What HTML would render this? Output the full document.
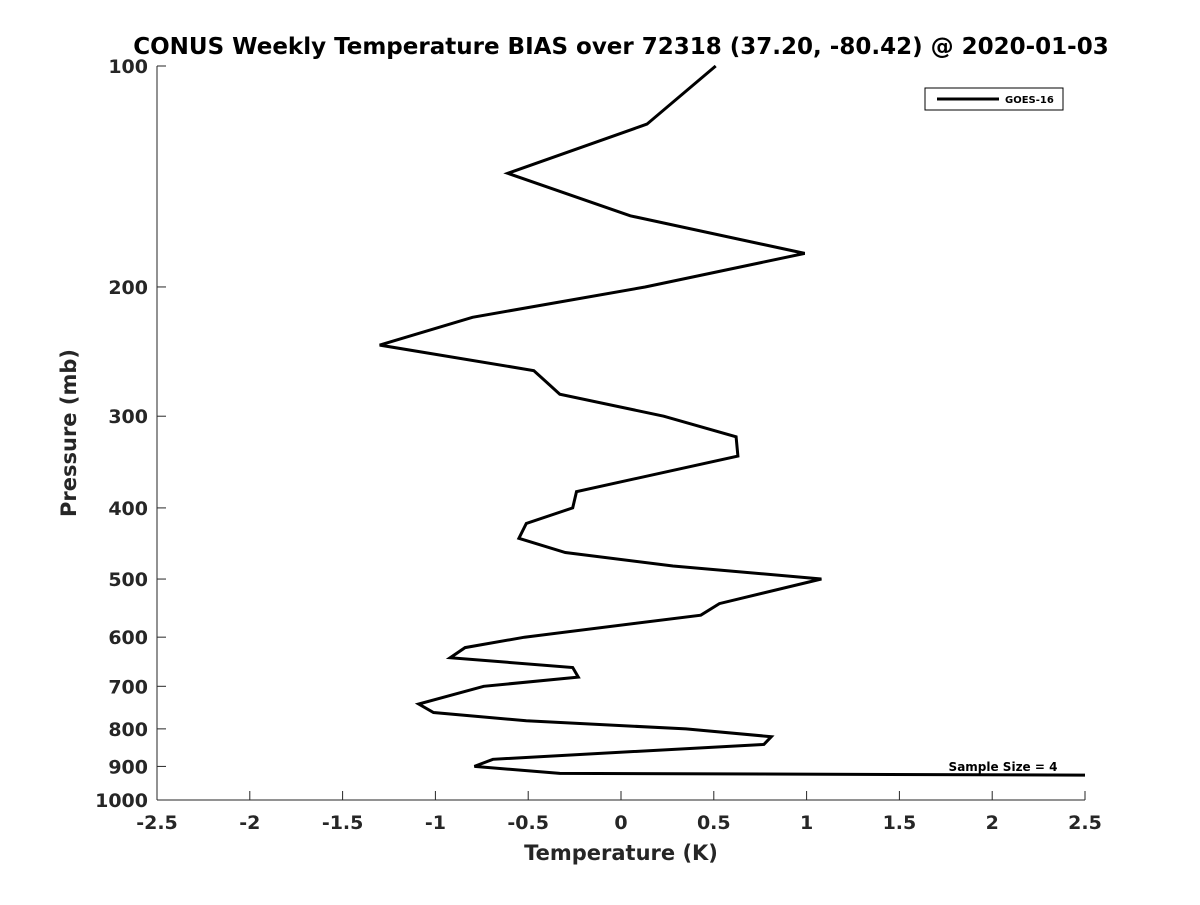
<!DOCTYPE html>
<html><head><meta charset="utf-8">
<style>
body{margin:0;background:#fff;}
svg text{font-family:"DejaVu Sans","Liberation Sans",sans-serif;font-weight:bold;fill:#262626;}
</style></head>
<body>
<svg id="chart" width="1200" height="900" xmlns="http://www.w3.org/2000/svg">
<rect width="1200" height="900" fill="#fff"/>
<text x="621" y="54" text-anchor="middle" font-size="23" style="fill:#000">CONUS Weekly Temperature BIAS over 72318 (37.20, -80.42) @ 2020-01-03</text>
<g id="axes"></g>
<text x="621" y="860" text-anchor="middle" font-size="21">Temperature (K)</text>
<text transform="translate(76,433) rotate(-90)" text-anchor="middle" font-size="21">Pressure (mb)</text>
<g>
<rect x="925" y="88" width="138" height="22" fill="#fff" stroke="#000" stroke-width="1"/>
<line x1="937" y1="99" x2="999" y2="99" stroke="#000" stroke-width="3"/>
<text x="1005" y="103" font-size="10" style="fill:#000">GOES-16</text>
</g>
<text x="1003" y="771" text-anchor="middle" font-size="12" style="fill:#000">Sample Size = 4</text>
<g id="series"></g>
</svg>
<script>
const xTicks=[-2.5,-2,-1.5,-1,-0.5,0,0.5,1,1.5,2,2.5];
const xTickLabels=["-2.5","-2","-1.5","-1","-0.5","0","0.5","1","1.5","2","2.5"];
const yTicks=[100,200,300,400,500,600,700,800,900,1000];
const pressures=[100,120,140,160,180,200,220,240,260,280,300,320,340,380,400,420,440,460,480,500,540,560,600,620,640,660,680,700,740,760,780,800,820,840,880,900,920,925];
const biasValues=[0.51,0.14,-0.61,0.05,0.99,0.13,-0.80,-1.30,-0.47,-0.33,0.23,0.62,0.63,-0.24,-0.26,-0.51,-0.55,-0.30,0.28,1.08,0.53,0.43,-0.52,-0.84,-0.92,-0.26,-0.23,-0.74,-1.09,-1.01,-0.51,0.35,0.81,0.77,-0.69,-0.79,-0.33,2.5];
const NS="http://www.w3.org/2000/svg";
const X0=157,X1=1085,Y0=66,Y1=800;
function xs(v){return X0+(v+2.5)/5*(X1-X0);}
function ys(p){return Y0+Math.log10(p/100)*(Y1-Y0);}
function mk(tag,attrs,parent){const e=document.createElementNS(NS,tag);for(const k in attrs)e.setAttribute(k,attrs[k]);parent.appendChild(e);return e;}
const axes=document.getElementById('axes');
let l=mk('line',{x1:X0,y1:Y0,x2:X0,y2:Y1,stroke:'#262626','stroke-width':1},axes);


l=mk('line',{x1:X0,y1:Y1,x2:X1,y2:Y1,stroke:'#262626','stroke-width':1},axes);


xTicks.forEach((v,i)=>{
  const t=mk('line',{x1:xs(v),y1:Y1,x2:xs(v),y2:Y1-9,stroke:'#262626'},axes);
  
  
  const tx=mk('text',{x:xs(v),y:Y1+29,'text-anchor':'middle','font-size':19},axes);
  tx.textContent=xTickLabels[i];
  
  
});
yTicks.forEach(p=>{
  const t=mk('line',{x1:X0,y1:ys(p),x2:X0+9,y2:ys(p),stroke:'#262626'},axes);
  
  
  const tx=mk('text',{x:X0-9,y:ys(p)+7,'text-anchor':'end','font-size':19},axes);
  tx.textContent=String(p);
  
  
});
const pts=pressures.map((p,i)=>xs(biasValues[i]).toFixed(1)+','+ys(p).toFixed(1)).join(' ');
const line=mk('polyline',{points:pts,fill:'none',stroke:'#000','stroke-width':3,'stroke-linejoin':'miter'},document.getElementById('series'));


</script>
</body></html>
